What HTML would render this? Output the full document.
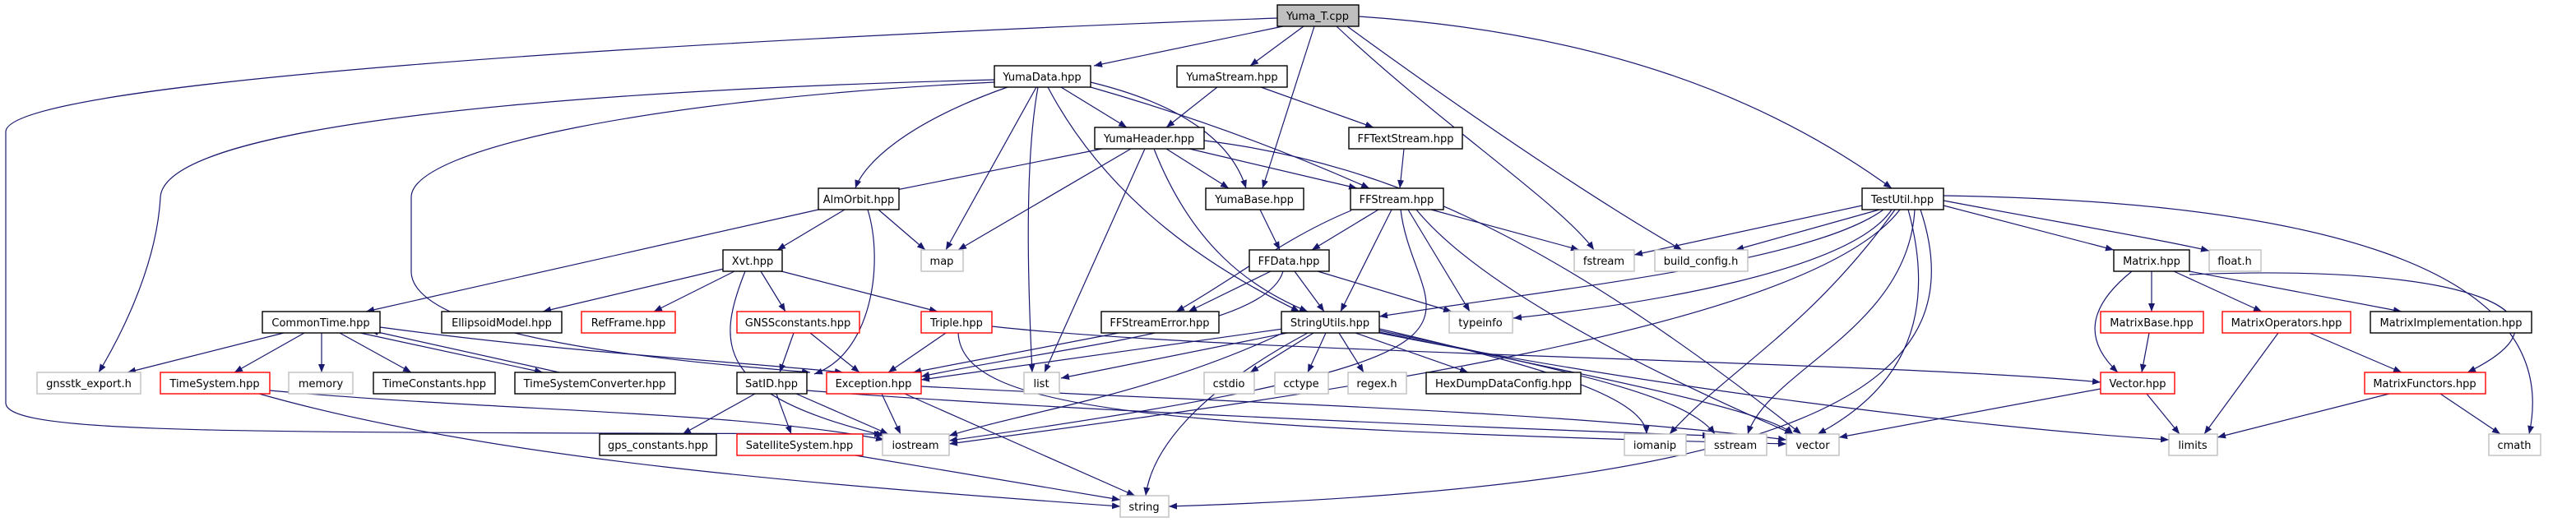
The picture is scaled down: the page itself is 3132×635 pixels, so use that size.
<!DOCTYPE html>
<html><head><meta charset="utf-8"><style>
html,body{margin:0;padding:0;background:#fff;}
svg{display:block}
text{font-family:"DejaVu Sans","Liberation Sans",sans-serif;font-size:13px;fill:#000;text-anchor:middle}
.e{fill:none;stroke:#191970;stroke-width:1.2}
.b{fill:#fff;stroke:#000;stroke-width:1.4}
.g{fill:#fff;stroke:#bfbfbf;stroke-width:1.4}
.r{fill:#fff;stroke:#ff0000;stroke-width:1.4}
</style></head><body>
<svg width="3132" height="635" viewBox="0 0 3132 635" xmlns="http://www.w3.org/2000/svg">
<defs><marker id="a" viewBox="0 0 10 10" refX="10" refY="5" markerWidth="10" markerHeight="10" markerUnits="userSpaceOnUse" orient="auto"><path d="M0,1 L10,5 L0,9 z" fill="#191970"/></marker></defs>
<g class="e" marker-end="url(#a)">
<path d="M1560,32 L1330,80"/>
<path d="M1585,32 L1520,80"/>
<path d="M1598,32 L1535,229"/>
<path d="M1625,32 C1750,150 1900,250 1938,304"/>
<path d="M1638,32 C1800,150 1950,250 2045,304"/>
<path d="M1652,20 C1950,40 2150,120 2300,229"/>
<path d="M1553,22 C800,50 10,100 7,160 L7,490 C7,530 300,525 1073,528"/>
<path d="M1290,106 L1370,155"/>
<path d="M1326,100 C1450,130 1500,180 1515,229"/>
<path d="M1326,106 C1480,150 1600,200 1665,229"/>
<path d="M1225,106 C1100,150 1050,200 1040,229"/>
<path d="M1260,106 L1150,304"/>
<path d="M1262,106 C1245,200 1250,350 1255,453"/>
<path d="M1274,106 C1350,250 1480,330 1580,379"/>
<path d="M1209,97 C700,110 200,150 195,240 C190,330 140,420 120,453"/>
<path d="M1209,100 C800,120 500,180 500,240 L500,330 C500,420 900,445 985,453"/>
<path d="M1480,106 L1418,155"/>
<path d="M1533,106 L1670,155"/>
<path d="M1340,181 L1070,235"/>
<path d="M1375,181 L1165,304"/>
<path d="M1392,181 L1270,453"/>
<path d="M1418,181 L1494,229"/>
<path d="M1446,181 L1650,229"/>
<path d="M1403,181 C1450,300 1520,350 1590,379"/>
<path d="M1464,171 C1700,200 1900,300 2190,528"/>
<path d="M1707,181 L1702,229"/>
<path d="M1532,255 L1556,304"/>
<path d="M1676,255 L1595,304"/>
<path d="M1643,256 C1560,290 1500,340 1430,379"/>
<path d="M1692,255 L1630,379"/>
<path d="M1712,255 L1787,379"/>
<path d="M1740,255 L1920,304"/>
<path d="M1722,255 C1800,350 2000,450 2180,528"/>
<path d="M1703,255 C1720,400 1900,430 1154,536"/>
<path d="M1027,255 L945,304"/>
<path d="M1068,255 L1125,304"/>
<path d="M995,255 L445,379"/>
<path d="M1055,255 C1075,320 1060,430 990,455"/>
<path d="M880,327 L660,379"/>
<path d="M893,330 L795,379"/>
<path d="M925,330 L955,379"/>
<path d="M950,330 L1140,379"/>
<path d="M906,330 C870,420 870,480 1075,530"/>
<path d="M345,405 L155,453"/>
<path d="M370,405 L285,453"/>
<path d="M391,405 L391,453"/>
<path d="M413,405 L500,453"/>
<path d="M438,405 L660,453"/>
<path d="M462,398 C700,430 900,440 1025,453"/>
<path d="M680,453 L450,402"/>
<path d="M328,475 C600,500 900,500 1075,535"/>
<path d="M315,479 C600,560 1000,590 1362,616"/>
<path d="M965,405 L948,453"/>
<path d="M985,405 L1045,453"/>
<path d="M1150,405 L1080,453"/>
<path d="M1165,405 C1170,500 1400,520 2172,540"/>
<path d="M1206,397 C1500,430 2300,440 2554,465"/>
<path d="M918,479 L830,528"/>
<path d="M944,479 L962,528"/>
<path d="M968,479 L1080,528"/>
<path d="M981,475 C1300,500 1800,520 2080,530"/>
<path d="M1040,554 L1362,608"/>
<path d="M1072,479 L1095,528"/>
<path d="M1100,479 L1380,603"/>
<path d="M1120,470 C1500,490 1900,500 2172,535"/>
<path d="M1360,405 L1110,453"/>
<path d="M1545,330 L1445,379"/>
<path d="M1574,330 L1610,379"/>
<path d="M1602,330 L1765,379"/>
<path d="M1560,330 C1540,400 1300,420 1120,458"/>
<path d="M1560,400 L1120,462"/>
<path d="M1565,405 L1290,460"/>
<path d="M1597,405 L1520,453"/>
<path d="M1612,405 L1590,453"/>
<path d="M1628,405 L1658,453"/>
<path d="M1648,405 L1785,453"/>
<path d="M1560,405 C1400,480 1250,500 1154,530"/>
<path d="M1590,405 C1450,480 1400,550 1393,603"/>
<path d="M1677,400 C1850,440 2000,480 2002,528"/>
<path d="M1677,402 C1900,450 2050,480 2085,528"/>
<path d="M1677,404 C1950,460 2150,500 2180,528"/>
<path d="M1677,405 C2000,470 2400,520 2637,535"/>
<path d="M2264,250 L1987,310"/>
<path d="M2285,255 L2110,304"/>
<path d="M2290,255 C2200,320 1900,350 1677,385"/>
<path d="M2300,255 C2250,330 2000,370 1840,387"/>
<path d="M2363,250 L2570,304"/>
<path d="M2363,244 C2500,270 2620,290 2686,305"/>
<path d="M2363,238 C2800,245 3120,320 3075,528"/>
<path d="M2310,255 C2200,400 1600,480 1154,540"/>
<path d="M2304,255 C2200,400 2100,450 2030,528"/>
<path d="M2320,255 C2360,400 2300,480 2210,528"/>
<path d="M2335,255 C2400,450 2250,590 1421,616"/>
<path d="M2328,255 C2320,400 2150,450 2125,528"/>
<path d="M2616,330 L2616,379"/>
<path d="M2643,330 L2750,379"/>
<path d="M2662,330 L2920,379"/>
<path d="M2662,334 C3000,320 3150,380 3000,453"/>
<path d="M2592,330 C2530,380 2540,420 2575,453"/>
<path d="M2613,405 L2604,453"/>
<path d="M2770,405 L2680,528"/>
<path d="M2808,405 L2920,453"/>
<path d="M2610,479 L2650,528"/>
<path d="M2554,473 L2236,532"/>
<path d="M2905,479 L2696,532"/>
<path d="M2967,479 L3040,528"/>
</g>
<rect x="1553" y="6" width="99" height="26" fill="#bfbfbf" stroke="#000" stroke-width="1.4"/><text x="1602" y="24">Yuma_T.cpp</text>
<rect class="b" x="1209" y="80" width="117" height="26"/><text x="1267" y="98">YumaData.hpp</text>
<rect class="b" x="1431" y="80" width="134" height="26"/><text x="1498" y="98">YumaStream.hpp</text>
<rect class="b" x="1331" y="155" width="133" height="26"/><text x="1397" y="173">YumaHeader.hpp</text>
<rect class="b" x="1640" y="155" width="138" height="26"/><text x="1709" y="173">FFTextStream.hpp</text>
<rect class="b" x="995" y="229" width="98" height="26"/><text x="1044" y="247">AlmOrbit.hpp</text>
<rect class="b" x="1466" y="229" width="119" height="26"/><text x="1525" y="247">YumaBase.hpp</text>
<rect class="b" x="1642" y="229" width="113" height="26"/><text x="1698" y="247">FFStream.hpp</text>
<rect class="b" x="2264" y="229" width="99" height="26"/><text x="2313" y="247">TestUtil.hpp</text>
<rect class="g" x="1120" y="304" width="51" height="26"/><text x="1145" y="322">map</text>
<rect class="b" x="879" y="304" width="72" height="26"/><text x="915" y="322">Xvt.hpp</text>
<rect class="b" x="1519" y="304" width="97" height="26"/><text x="1567" y="322">FFData.hpp</text>
<rect class="g" x="1914" y="304" width="73" height="26"/><text x="1950" y="322">fstream</text>
<rect class="g" x="2012" y="304" width="113" height="26"/><text x="2068" y="322">build_config.h</text>
<rect class="b" x="2570" y="304" width="92" height="26"/><text x="2616" y="322">Matrix.hpp</text>
<rect class="g" x="2686" y="304" width="63" height="26"/><text x="2717" y="322">float.h</text>
<rect class="b" x="319" y="379" width="143" height="26"/><text x="390" y="397">CommonTime.hpp</text>
<rect class="b" x="537" y="379" width="146" height="26"/><text x="610" y="397">EllipsoidModel.hpp</text>
<rect class="r" x="707" y="379" width="114" height="26"/><text x="764" y="397">RefFrame.hpp</text>
<rect class="r" x="896" y="379" width="149" height="26"/><text x="970" y="397">GNSSconstants.hpp</text>
<rect class="r" x="1120" y="379" width="86" height="26"/><text x="1163" y="397">Triple.hpp</text>
<rect class="b" x="1339" y="379" width="143" height="26"/><text x="1410" y="397">FFStreamError.hpp</text>
<rect class="b" x="1558" y="379" width="119" height="26"/><text x="1617" y="397">StringUtils.hpp</text>
<rect class="g" x="1762" y="379" width="77" height="26"/><text x="1800" y="397">typeinfo</text>
<rect class="r" x="2554" y="379" width="125" height="26"/><text x="2616" y="397">MatrixBase.hpp</text>
<rect class="r" x="2702" y="379" width="156" height="26"/><text x="2780" y="397">MatrixOperators.hpp</text>
<rect class="b" x="2882" y="379" width="196" height="26"/><text x="2980" y="397">MatrixImplementation.hpp</text>
<rect class="g" x="45" y="453" width="126" height="26"/><text x="108" y="471">gnsstk_export.h</text>
<rect class="r" x="195" y="453" width="133" height="26"/><text x="261" y="471">TimeSystem.hpp</text>
<rect class="g" x="351" y="453" width="78" height="26"/><text x="390" y="471">memory</text>
<rect class="b" x="454" y="453" width="148" height="26"/><text x="528" y="471">TimeConstants.hpp</text>
<rect class="b" x="626" y="453" width="195" height="26"/><text x="723" y="471">TimeSystemConverter.hpp</text>
<rect class="b" x="896" y="453" width="85" height="26"/><text x="938" y="471">SatID.hpp</text>
<rect class="r" x="1005" y="453" width="115" height="26"/><text x="1062" y="471">Exception.hpp</text>
<rect class="g" x="1245" y="453" width="43" height="26"/><text x="1266" y="471">list</text>
<rect class="g" x="1464" y="453" width="61" height="26"/><text x="1494" y="471">cstdio</text>
<rect class="g" x="1550" y="453" width="65" height="26"/><text x="1582" y="471">cctype</text>
<rect class="g" x="1639" y="453" width="71" height="26"/><text x="1674" y="471">regex.h</text>
<rect class="b" x="1734" y="453" width="188" height="26"/><text x="1828" y="471">HexDumpDataConfig.hpp</text>
<rect class="r" x="2554" y="453" width="90" height="26"/><text x="2599" y="471">Vector.hpp</text>
<rect class="r" x="2875" y="453" width="147" height="26"/><text x="2948" y="471">MatrixFunctors.hpp</text>
<rect class="b" x="729" y="528" width="142" height="26"/><text x="800" y="546">gps_constants.hpp</text>
<rect class="r" x="896" y="528" width="153" height="26"/><text x="972" y="546">SatelliteSystem.hpp</text>
<rect class="g" x="1073" y="528" width="81" height="26"/><text x="1113" y="546">iostream</text>
<rect class="g" x="1975" y="528" width="75" height="26"/><text x="2012" y="546">iomanip</text>
<rect class="g" x="2073" y="528" width="75" height="26"/><text x="2110" y="546">sstream</text>
<rect class="g" x="2172" y="528" width="64" height="26"/><text x="2204" y="546">vector</text>
<rect class="g" x="2637" y="528" width="59" height="26"/><text x="2666" y="546">limits</text>
<rect class="g" x="3026" y="528" width="63" height="26"/><text x="3057" y="546">cmath</text>
<rect class="g" x="1362" y="603" width="59" height="26"/><text x="1391" y="621">string</text>
</svg>
</body></html>
